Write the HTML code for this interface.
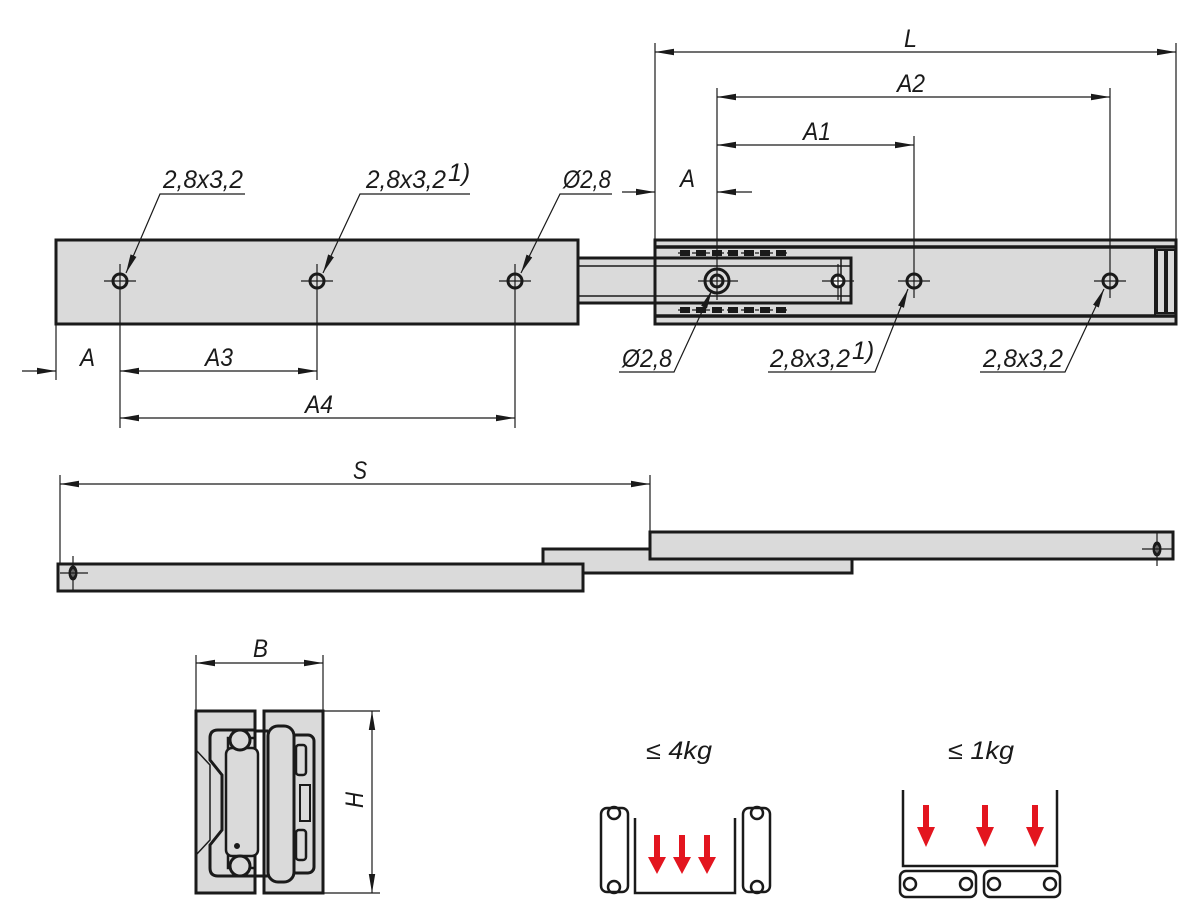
<!DOCTYPE html>
<html><head><meta charset="utf-8"><style>
html,body{margin:0;padding:0;background:#fff;}
svg{display:block;}
text{font-family:"Liberation Sans",sans-serif;font-style:italic;font-size:25px;fill:#1a1a1a;}
</style></head><body>
<svg width="1200" height="920" viewBox="0 0 1200 920" xmlns="http://www.w3.org/2000/svg">
<defs>
<marker id="ae" markerWidth="20" markerHeight="8" refX="19" refY="4" orient="auto" markerUnits="userSpaceOnUse"><path d="M0,0.8 L19,4 L0,7.2 Z" fill="#1a1a1a"/></marker>
<marker id="as" markerWidth="20" markerHeight="8" refX="1" refY="4" orient="auto" markerUnits="userSpaceOnUse"><path d="M20,0.8 L1,4 L20,7.2 Z" fill="#1a1a1a"/></marker>
</defs>
<g stroke="#1a1a1a" fill="none">
<rect x="56" y="240" width="522" height="84" fill="#dadada" stroke-width="3"/>
<rect x="578" y="258" width="273" height="45" fill="#dadada" stroke-width="3"/>
<line x1="578" y1="266" x2="655" y2="266" stroke-width="1.5"/>
<line x1="578" y1="296" x2="655" y2="296" stroke-width="1.5"/>
<rect x="655" y="240" width="521" height="84" fill="#dadada" stroke-width="3"/>
<line x1="655" y1="247" x2="1176" y2="247" stroke-width="3.5"/>
<line x1="655" y1="316" x2="1176" y2="316" stroke-width="3.5"/>
<line x1="1155" y1="247" x2="1155" y2="316" stroke-width="2"/>
<rect x="1157" y="250" width="8" height="63" stroke-width="2"/>
<rect x="1167" y="250" width="8" height="63" stroke-width="2"/>
<rect x="655" y="258" width="196" height="45" fill="#dadada" stroke-width="3"/>
<line x1="655" y1="266" x2="851" y2="266" stroke-width="1.5"/>
<line x1="655" y1="296" x2="851" y2="296" stroke-width="1.5"/>
<line x1="841" y1="258" x2="841" y2="303" stroke-width="1.5"/>
<line x1="678" y1="253" x2="790" y2="253" stroke-width="1.2" stroke-dasharray="4,3"/>
<line x1="678" y1="310" x2="790" y2="310" stroke-width="1.2" stroke-dasharray="4,3"/>
<line x1="680" y1="253" x2="790" y2="253" stroke-width="6" stroke-dasharray="10,6"/>
<line x1="680" y1="310" x2="790" y2="310" stroke-width="6" stroke-dasharray="10,6"/>
<g stroke-width="3">
<circle cx="120" cy="281" r="7"/><circle cx="317" cy="281" r="7"/><circle cx="515" cy="281" r="7"/>
<circle cx="838" cy="281" r="6" fill="#fff"/><circle cx="914" cy="281" r="7"/><circle cx="1110" cy="281" r="7"/>
<circle cx="717" cy="281" r="12"/><circle cx="717" cy="281" r="6"/>
</g>
<g stroke-width="1.2">
<line x1="104" y1="281" x2="136" y2="281"/><line x1="301" y1="281" x2="333" y2="281"/><line x1="499" y1="281" x2="531" y2="281"/>
<line x1="698" y1="281" x2="738" y2="281"/><line x1="822" y1="281" x2="854" y2="281"/>
<line x1="898" y1="281" x2="930" y2="281"/><line x1="1094" y1="281" x2="1126" y2="281"/>
<line x1="317" y1="264" x2="317" y2="380"/><line x1="515" y1="264" x2="515" y2="428"/>
<line x1="120" y1="264" x2="120" y2="428"/><line x1="838" y1="264" x2="838" y2="300"/>
<line x1="56" y1="324" x2="56" y2="380"/>
<line x1="655" y1="43" x2="655" y2="240"/><line x1="1176" y1="43" x2="1176" y2="240"/>
<line x1="717" y1="88" x2="717" y2="300"/><line x1="1110" y1="88" x2="1110" y2="298"/>
<line x1="914" y1="136" x2="914" y2="298"/>
<line x1="655" y1="52" x2="1176" y2="52" marker-start="url(#as)" marker-end="url(#ae)"/>
<line x1="717" y1="97" x2="1110" y2="97" marker-start="url(#as)" marker-end="url(#ae)"/>
<line x1="717" y1="145" x2="914" y2="145" marker-start="url(#as)" marker-end="url(#ae)"/>
<line x1="622" y1="192" x2="655" y2="192" marker-end="url(#ae)"/>
<line x1="752" y1="192" x2="717" y2="192" marker-end="url(#ae)"/>
<line x1="22" y1="371" x2="56" y2="371" marker-end="url(#ae)"/>
<line x1="120" y1="371" x2="317" y2="371" marker-start="url(#as)" marker-end="url(#ae)"/>
<line x1="120" y1="418" x2="515" y2="418" marker-start="url(#as)" marker-end="url(#ae)"/>
<polyline points="245,194 160,194 126,273" marker-end="url(#ae)"/>
<polyline points="470,194 360,194 323,273" marker-end="url(#ae)"/>
<polyline points="612,194 560,194 521,273" marker-end="url(#ae)"/>
<polyline points="619,372 674,372 712,290" marker-end="url(#ae)"/>
<polyline points="768,372 875,372 908,289" marker-end="url(#ae)"/>
<polyline points="980,372 1065,372 1104,289" marker-end="url(#ae)"/>
<line x1="60" y1="475" x2="60" y2="572"/><line x1="650" y1="475" x2="650" y2="532"/>
<line x1="60" y1="484" x2="650" y2="484" marker-start="url(#as)" marker-end="url(#ae)"/>
</g>
<rect x="543" y="549" width="309" height="24" fill="#dadada" stroke-width="3"/>
<rect x="58" y="564" width="525" height="27" fill="#dadada" stroke-width="3"/>
<rect x="650" y="532" width="523" height="27" fill="#dadada" stroke-width="3"/>
<ellipse cx="73" cy="573" rx="3" ry="6" stroke-width="3"/>
<ellipse cx="1157" cy="549" rx="3" ry="6" stroke-width="3"/>
<g stroke-width="1.2"><line x1="60" y1="573" x2="88" y2="573"/><line x1="73" y1="556" x2="73" y2="590"/>
<line x1="1142" y1="549" x2="1174" y2="549"/><line x1="1157" y1="532" x2="1157" y2="566"/></g>
<g stroke-width="1.2">
<line x1="196" y1="655" x2="196" y2="711"/><line x1="323" y1="655" x2="323" y2="711"/>
<line x1="196" y1="663" x2="323" y2="663" marker-start="url(#as)" marker-end="url(#ae)"/>
<line x1="323" y1="711" x2="380" y2="711"/><line x1="323" y1="893" x2="380" y2="893"/>
<line x1="372" y1="711" x2="372" y2="893" marker-start="url(#as)" marker-end="url(#ae)"/>
<line x1="196" y1="780" x2="210" y2="780"/><line x1="196" y1="826" x2="210" y2="826"/>
</g>
<rect x="196" y="711" width="59" height="182" fill="#dadada" stroke-width="3"/>
<rect x="264" y="711" width="59" height="182" fill="#dadada" stroke-width="3"/>
<path d="M196,750 L210,765 V840 L196,855" stroke-width="1.5"/>
<path d="M255,730 H218 Q210,730 210,738 V760 L222,775 V830 L210,845 V868 Q210,876 218,876 H255" stroke-width="3"/>
<path d="M255,738 H228 V760 L236,770 V836 L228,846 V868 H255" stroke-width="2.5"/>
<rect x="226" y="748" width="32" height="108" rx="6" fill="#dadada" stroke-width="2.5"/>
<circle cx="237" cy="846" r="2.5" fill="#1a1a1a"/>
<circle cx="240" cy="740" r="10" fill="#dadada" stroke-width="3"/>
<circle cx="240" cy="866" r="10" fill="#dadada" stroke-width="3"/>
<path d="M268,731 H255 M268,876 H255" stroke-width="3"/>
<rect x="290" y="735" width="24" height="138" rx="6" stroke-width="3"/>
<rect x="296" y="745" width="10" height="30" rx="3" stroke-width="2.5"/>
<rect x="296" y="830" width="10" height="30" rx="3" stroke-width="2.5"/>
<rect x="300" y="785" width="10" height="36" stroke-width="2"/>
<rect x="268" y="726" width="26" height="156" rx="10" fill="#dadada" stroke-width="3"/>
<g stroke-width="2.5">
<polyline points="635,818 635,893 735,893 735,818"/>
<rect x="601" y="808" width="27" height="84" rx="6"/>
<rect x="743" y="808" width="27" height="84" rx="6"/>
<circle cx="614" cy="813" r="6"/><circle cx="614" cy="887" r="6"/>
<circle cx="757" cy="813" r="6"/><circle cx="757" cy="887" r="6"/>
<polyline points="903,790 903,866 1057,866 1057,790"/>
<rect x="900" y="871" width="76" height="26" rx="6"/>
<rect x="984" y="871" width="76" height="26" rx="6"/>
<circle cx="910" cy="884" r="6"/><circle cx="966" cy="884" r="6"/>
<circle cx="994" cy="884" r="6"/><circle cx="1050" cy="884" r="6"/>
</g>
</g>
<g fill="#e3151f">
<path d="M654,835 h6 v22 h6 l-9,17 l-9,-17 h6 z"/>
<path d="M679,835 h6 v22 h6 l-9,17 l-9,-17 h6 z"/>
<path d="M704,835 h6 v22 h6 l-9,17 l-9,-17 h6 z"/>
<path d="M923,805 h6 v22 h6 l-9,20 l-9,-20 h6 z"/>
<path d="M982,805 h6 v22 h6 l-9,20 l-9,-20 h6 z"/>
<path d="M1032,805 h6 v22 h6 l-9,20 l-9,-20 h6 z"/>
</g>
<text x="904" y="47" textLength="13" lengthAdjust="spacingAndGlyphs">L</text>
<text x="897" y="92" textLength="28" lengthAdjust="spacingAndGlyphs">A2</text>
<text x="803" y="140" textLength="28" lengthAdjust="spacingAndGlyphs">A1</text>
<text x="680" y="187" textLength="15" lengthAdjust="spacingAndGlyphs">A</text>
<text x="163" y="188" textLength="80" lengthAdjust="spacingAndGlyphs">2,8x3,2</text>
<text x="366" y="188" textLength="80" lengthAdjust="spacingAndGlyphs">2,8x3,2</text><text x="448" y="181" font-size="18">1)</text>
<text x="563" y="188" textLength="48" lengthAdjust="spacingAndGlyphs">Ø2,8</text>
<text x="80" y="366" textLength="15" lengthAdjust="spacingAndGlyphs">A</text>
<text x="205" y="366" textLength="28" lengthAdjust="spacingAndGlyphs">A3</text>
<text x="305" y="413" textLength="28" lengthAdjust="spacingAndGlyphs">A4</text>
<text x="622" y="367" textLength="50" lengthAdjust="spacingAndGlyphs">Ø2,8</text>
<text x="770" y="367" textLength="80" lengthAdjust="spacingAndGlyphs">2,8x3,2</text><text x="852" y="359" font-size="18">1)</text>
<text x="983" y="367" textLength="80" lengthAdjust="spacingAndGlyphs">2,8x3,2</text>
<text x="353" y="479" textLength="14" lengthAdjust="spacingAndGlyphs">S</text>
<text x="253" y="657" textLength="15" lengthAdjust="spacingAndGlyphs">B</text>
<text transform="translate(363,808) rotate(-90)" textLength="16" lengthAdjust="spacingAndGlyphs">H</text>
<text x="646" y="759" textLength="66" lengthAdjust="spacingAndGlyphs">≤ 4kg</text>
<text x="948" y="759" textLength="66" lengthAdjust="spacingAndGlyphs">≤ 1kg</text>
</svg>
</body></html>
